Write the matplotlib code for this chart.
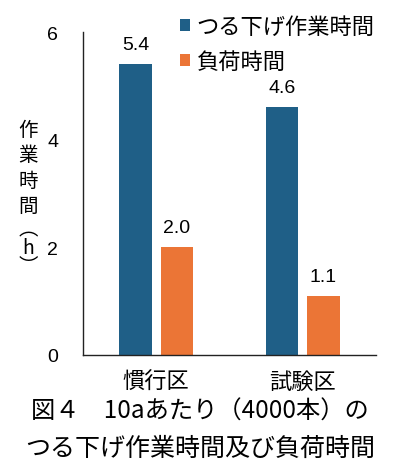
import matplotlib.pyplot as plt
import numpy as np

plt.rcParams['font.family'] = ['Noto Sans CJK JP', 'DejaVu Sans']

categories = ['慣行区', '試験区']
series_names = ['つる下げ作業時間', '負荷時間']
tsuru_hours = [5.4, 4.6]
load_hours = [2.0, 1.1]
yticks = [0, 2, 4, 6]

blue = '#1F5F87'
orange = '#EB7536'
num_font = ['Liberation Sans', 'DejaVu Sans']

fig = plt.figure(figsize=(4.0, 4.77), dpi=100)
ax = fig.add_axes([0.2075, 0.2537, 0.7325, 0.677])

x = np.arange(len(categories))
w = 0.22
off = 0.142
b1 = ax.bar(x - off, tsuru_hours, w, color=blue, label=series_names[0])
b2 = ax.bar(x + off, load_hours, w, color=orange, label=series_names[1])

for bars, vals in [(b1, tsuru_hours), (b2, load_hours)]:
    for rect, v in zip(bars, vals):
        ax.annotate(f'{v:.1f}', (rect.get_x() + rect.get_width() / 2, v),
                    xytext=(0, 8), textcoords='offset points',
                    ha='center', va='bottom', fontsize=14, family=num_font)

ax.set_xlim(-0.5, 1.5)
ax.set_ylim(0, 6)
ax.set_yticks(yticks)
ax.set_yticklabels([str(t) for t in yticks], family=num_font, fontsize=14)
ax.set_xticks(x)
ax.set_xticklabels(categories, fontsize=16)
ax.tick_params(axis='y', length=0, pad=18)
ax.tick_params(axis='x', length=0, pad=11)
for s in ['top', 'right']:
    ax.spines[s].set_visible(False)
for s in ['left', 'bottom']:
    ax.spines[s].set_color('#222222')
    ax.spines[s].set_linewidth(1.0)

# vertical y-axis label: kanji part and the (h) part
fig.text(28 / 400, 1 - 120 / 477, '作\n業\n時\n間', ha='center', va='top',
         fontsize=14, linespacing=1.28)
fig.text(28 / 400, 1 - 219 / 477, '︵\nh\n︶', ha='center', va='top',
         fontsize=14, linespacing=0.85)

ax.legend(loc='upper left', bbox_to_anchor=(0.3, 1.08), frameon=False,
          fontsize=16, handlelength=0.45, handleheight=0.45, handletextpad=0.3,
          labelspacing=0.55, borderaxespad=0)

fig.text(0.5, 1 - 412 / 477, '図４　10aあたり（4000本）の', ha='center', va='center', fontsize=17.5)
fig.text(0.5, 1 - 449 / 477, 'つる下げ作業時間及び負荷時間', ha='center', va='center', fontsize=18)

fig.savefig('out.png', dpi=100)
